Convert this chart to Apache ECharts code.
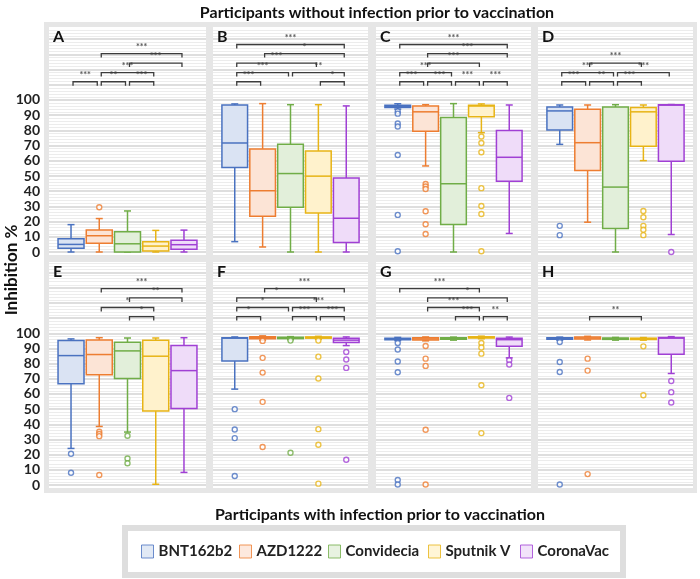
<!DOCTYPE html>
<html><head><meta charset="utf-8">
<script src="https://cdn.jsdelivr.net/npm/echarts@6/dist/echarts.min.js"></script>
<style>html,body{margin:0;padding:0;background:#fff}#c{width:700px;height:579px}</style>
</head><body><div id="c"></div>
<script>
// ---------------- DATA ----------------
const vaccines = ['BNT162b2', 'AZD1222', 'Convidecia', 'Sputnik V', 'CoronaVac'];
const panelLetters = ['A', 'B', 'C', 'D', 'E', 'F', 'G', 'H'];
const yTickLabels = [0, 10, 20, 30, 40, 50, 60, 70, 80, 90, 100];
const topTitle = 'Participants without infection prior to vaccination';
const bottomTitle = 'Participants with infection prior to vaccination';
const yTitle = 'Inhibition %';

// box stats per panel: [min, Q1, median, Q3, max] for each vaccine
const boxA = [[0, 2.4, 5, 8.7, 18], [0, 5.7, 10.7, 14.4, 22], [0, 0, 5.4, 13.3, 27], [0, 0.7, 3.9, 6.8, 14.2], [0, 1.8, 4.8, 7.8, 14.4]];
const boxB = [[6.8, 55.6, 71.7, 96.7, 97.4], [3.3, 23.5, 40.3, 67.8, 97.6], [0, 29.4, 51.6, 70.8, 96.9], [0, 25.7, 49.9, 66.4, 96.9], [0, 6.3, 22.2, 48.6, 96.1]];
const boxC = [[94, 95, 95.8, 96.5, 97.5], [56.6, 79.5, 92.2, 96.1, 96.9], [0, 18.1, 44.9, 88.5, 97.6], [78.5, 88.9, 96, 96.5, 97.4], [12.2, 46.6, 62.3, 80, 96.7]];
const boxD = [[70.8, 80.2, 92.8, 95.4, 96.7], [19.6, 53.6, 71.9, 93.9, 96.7], [0, 15.5, 42.7, 95.4, 96.9], [60.1, 69.5, 92.2, 95, 96.7], [11.5, 59.7, 96.6, 96.9, 97]];
const boxE = [[24.1, 66.7, 85.3, 95.2, 96.3], [38.6, 72.6, 86, 95.6, 97.1], [34.9, 70.2, 88.4, 94.1, 96.9], [0.5, 48.7, 84.9, 95.4, 96.9], [8.3, 50.4, 75.4, 91.9, 97.1]];
const boxF = [[63.2, 81.8, 96.8, 97.1, 97.6], [95.5, 96.4, 97.1, 97.7, 98.3], [95.8, 96.5, 97, 97.4, 97.8], [96, 96.8, 97.2, 97.6, 98], [91.9, 93.9, 95.5, 96.7, 97.6]];
const boxG = [[95.2, 95.8, 96.3, 96.8, 97.3], [95, 95.6, 96.3, 97, 97.6], [95.5, 96, 96.5, 97, 97.5], [96.4, 96.9, 97.3, 97.7, 98.1], [83.8, 91.4, 95.8, 96.7, 97.5]];
const boxH = [[95.5, 96.1, 96.7, 97.1, 97.5], [95.6, 96.2, 96.9, 97.5, 98], [95.5, 96, 96.5, 96.9, 97.3], [95.5, 95.9, 96.3, 96.8, 97.2], [73.5, 86.2, 96.8, 97.2, 97.8]];

// outliers per panel: [vaccineIndex, value]
const outA = [[1, 29.4]];
const outB = [];
const outC = [[0, 92.5], [0, 91], [0, 84.5], [0, 82.6], [0, 63.8], [0, 24.4], [0, 0.5],
  [1, 44.7], [1, 43.1], [1, 41.4], [1, 26.8], [1, 18.3], [1, 11.8],
  [3, 76], [3, 71.7], [3, 65.6], [3, 42], [3, 30.3], [3, 25], [3, 0.5]];
const outD = [[0, 17.2], [0, 11.1], [3, 27], [3, 22.9], [3, 17.2], [3, 14.6], [3, 11.1], [4, 0]];
const outE = [[0, 20.6], [0, 8.1], [1, 35.1], [1, 33.6], [1, 32.2], [1, 6.6], [2, 32.5], [2, 17.5], [2, 14.3]];
const outF = [[0, 50], [0, 36.6], [0, 30.9], [0, 5.9], [1, 95], [1, 83.8], [1, 74.1], [1, 54.8], [1, 25],
  [2, 95.2], [2, 21.3], [3, 95.2], [3, 84.6], [3, 70.2], [3, 36.8], [3, 26.5], [3, 0.9],
  [4, 87.7], [4, 82.7], [4, 77.2], [4, 16.6]];
const outG = [[0, 93.6], [0, 89.3], [0, 81.4], [0, 74.3], [0, 3.3], [0, 0.3], [1, 91.6], [1, 83.3], [1, 78.5], [1, 36.4], [1, 0.3],
  [3, 93.6], [3, 90.6], [3, 86.6], [3, 65.8], [3, 34.2], [4, 82.2], [4, 79.4], [4, 57.4]];
const outH = [[0, 94.3], [0, 81.1], [0, 74.5], [0, 0.3], [1, 83.3], [1, 75.4], [1, 7.2], [3, 91.4], [3, 59.2], [4, 68.6], [4, 61.2], [4, 54.4]];

// significance brackets per panel: [fromIndex, toIndex, level, label]
const brA = [[0, 1, 112, '***'], [1, 2, 112, '**'], [2, 3, 112, '***'], [1, 3, 118, '***'], [2, 4, 124.3, '***'], [1, 4, 130.5, '***']];
const brB = [[0, 1, 112, '***'], [3, 4, 112, '*'], [0, 2, 118, '***'], [2, 4, 118, '**'], [0, 3, 124.3, '***'], [1, 4, 130.5, '*'], [0, 4, 136.5, '***']];
const brC = [[0, 1, 112, '***'], [1, 2, 112, '***'], [2, 3, 112, '***'], [3, 4, 112, '***'], [0, 2, 118, '***'], [1, 3, 124.3, '***'], [1, 4, 130.5, '***'], [0, 4, 136.5, '***']];
const brD = [[0, 1, 112, '***'], [1, 2, 112, '**'], [2, 3, 112, '***'], [0, 2, 118, '***'], [2, 4, 118, '***'], [1, 3, 124.3, '***']];
const brE = [[2, 3, 111, '*'], [1, 3, 117, '*'], [2, 4, 123.3, '**'], [1, 4, 129.5, '***']];
const brF = [[0, 1, 111, '*'], [2, 3, 111, '***'], [3, 4, 111, '***'], [0, 2, 117, '*'], [2, 4, 117, '***'], [0, 3, 123.3, '*'], [1, 4, 129.5, '***']];
const brG = [[2, 3, 111, '***'], [3, 4, 111, '**'], [1, 3, 117, '***'], [1, 4, 123.3, '*'], [0, 3, 129.5, '***']];
const brH = [[1, 3, 111, '**']];

// ---------------- STYLE / LAYOUT ----------------
const strokeColors = ['#4a72c0', '#ed7d31', '#70ad47', '#e7b416', '#a040d4'];
const fillColors = ['#dae3f3', '#fce4d6', '#e2efda', '#fff2cc', '#efdcf9'];
const FONT = 'Lato, "Open Sans", sans-serif';
const colLeft = [49, 213, 376, 538];
const colWidth = [157, 155, 155, 155];
const rowTop = [27, 262];
const rowZero = [252, 485];
const rowBottom = [255, 488];
const rowMax = [148, 147];

const boxes = [boxA, boxB, boxC, boxD, boxE, boxF, boxG, boxH];
const outs = [outA, outB, outC, outD, outE, outF, outG, outH];
const brs = [brA, brB, brC, brD, brE, brF, brG, brH];

const grids = [], xAxes = [], yAxes = [], series = [], graphics = [];

graphics.push({type: 'rect', z: -20, shape: {x: 44, y: 22, width: 653, height: 471}, style: {fill: '#e6e6e6'}});

for (let p = 0; p < 8; p++) {
  const r = Math.floor(p / 4), c = p % 4;
  grids.push({left: colLeft[c], width: colWidth[c], top: rowTop[r], height: rowZero[r] - rowTop[r], containLabel: false});
  graphics.push({type: 'rect', z: -10, shape: {x: colLeft[c], y: rowTop[r], width: colWidth[c], height: rowBottom[r] - rowTop[r]}, style: {fill: '#ffffff'}});
  graphics.push({type: 'text', z: 10, x: colLeft[c] + 4, y: rowTop[r] + 2, style: {text: panelLetters[p], font: 'bold 16px ' + FONT, fill: '#111'}});
  xAxes.push({type: 'value', gridIndex: p, min: -0.78, max: 4.78, show: false});
  yAxes.push({
    type: 'value', gridIndex: p, min: 0, max: rowMax[r], interval: 10,
    axisLine: {show: false}, axisTick: {show: false},
    splitLine: {show: true, showMaxLine: false, lineStyle: {color: '#d3d3d3', width: 1.5}},
    minorTick: {show: false, splitNumber: 5},
    minorSplitLine: {show: true, lineStyle: {color: '#ececec', width: 1}},
    axisLabel: {
      show: c === 0, margin: 9, fontFamily: FONT, fontWeight: 'bold', fontSize: 14, color: '#222',
      formatter: v => yTickLabels.indexOf(v) >= 0 ? String(v) : ''
    }
  });

  const stats = boxes[p];
  series.push({
    type: 'custom', xAxisIndex: p, yAxisIndex: p, z: 2,
    data: stats.map((s, i) => [i, s[0], s[1], s[2], s[3], s[4]]),
    renderItem: function (params, api) {
      const i = api.value(0);
      const pMin = api.coord([i, api.value(1)]);
      const pQ1 = api.coord([i, api.value(2)]);
      const pMed = api.coord([i, api.value(3)]);
      const pQ3 = api.coord([i, api.value(4)]);
      const pMax = api.coord([i, api.value(5)]);
      const bw = api.size([1, 0])[0] * 0.92;
      const cx = pMed[0];
      const cap = 7;
      const ls = {stroke: strokeColors[i], lineWidth: 1.5};
      return {type: 'group', children: [
        {type: 'line', shape: {x1: cx, y1: pMax[1], x2: cx, y2: pQ3[1]}, style: ls},
        {type: 'line', shape: {x1: cx, y1: pQ1[1], x2: cx, y2: pMin[1]}, style: ls},
        {type: 'line', shape: {x1: cx - cap / 2, y1: pMax[1], x2: cx + cap / 2, y2: pMax[1]}, style: ls},
        {type: 'line', shape: {x1: cx - cap / 2, y1: pMin[1], x2: cx + cap / 2, y2: pMin[1]}, style: ls},
        {type: 'rect', shape: {x: cx - bw / 2, y: pQ3[1], width: bw, height: Math.max(pQ1[1] - pQ3[1], 1)}, style: {fill: fillColors[i], stroke: strokeColors[i], lineWidth: 1.5}},
        {type: 'line', shape: {x1: cx - bw / 2, y1: pMed[1], x2: cx + bw / 2, y2: pMed[1]}, style: ls}
      ]};
    }
  });

  series.push({
    type: 'scatter', xAxisIndex: p, yAxisIndex: p, z: 4, symbol: 'circle', symbolSize: 5,
    data: outs[p].map(o => ({value: [o[0], o[1]], itemStyle: {color: '#fff', borderColor: strokeColors[o[0]], borderWidth: 1.4}})),
    silent: true
  });

  const br = brs[p];
  series.push({
    type: 'custom', xAxisIndex: p, yAxisIndex: p, z: 3,
    data: br.map(b => [b[0], b[1], b[2]]),
    renderItem: function (params, api) {
      const a = api.coord([api.value(0), api.value(2)]);
      const b = api.coord([api.value(1), api.value(2)]);
      const x1 = a[0] + 2, x2 = b[0] - 2, y = a[1];
      return {type: 'group', children: [
        {type: 'polyline', shape: {points: [[x1, y + 4], [x1, y], [x2, y], [x2, y + 4]]}, style: {stroke: '#3c3c3c', lineWidth: 1.3, fill: null}},
        {type: 'text', x: (x1 + x2) / 2, y: y - 2, style: {text: br[params.dataIndex][3], font: 'bold 9px ' + FONT, fill: '#555', align: 'center', verticalAlign: 'bottom'}}
      ]};
    }
  });
}

// legend proxy series
const legendLeft = [141, 239, 328, 428, 520];
vaccines.forEach((v, k) => {
  series.push({type: 'scatter', name: v, xAxisIndex: 0, yAxisIndex: 0, data: [], itemStyle: {color: fillColors[k], borderColor: strokeColors[k], borderWidth: 1}});
});

graphics.push({type: 'rect', z: -20, shape: {x: 122, y: 525, width: 504, height: 53}, style: {fill: '#dedede'}});
graphics.push({type: 'rect', z: -19, shape: {x: 128, y: 531, width: 492, height: 41}, style: {fill: '#ffffff'}});
graphics.push({type: 'text', z: 10, x: 12, y: 270, rotation: Math.PI / 2, style: {text: yTitle, font: 'bold 17px ' + FONT, fill: '#111', align: 'center', verticalAlign: 'middle'}});

const option = {
  animation: false,
  backgroundColor: '#fff',
  title: [
    {text: topTitle, left: 372, top: 0, textAlign: 'center', textStyle: {fontFamily: FONT, fontWeight: 'bold', fontSize: 16, color: '#111'}},
    {text: bottomTitle, left: 375, top: 502, textAlign: 'center', textStyle: {fontFamily: FONT, fontWeight: 'bold', fontSize: 16, color: '#111'}}
  ],
  legend: vaccines.map((v, k) => ({
    data: [{name: v, icon: 'rect', itemStyle: {color: fillColors[k], borderColor: strokeColors[k], borderWidth: 1}}],
    left: legendLeft[k], top: 544, padding: 0, itemWidth: 12, itemHeight: 13, itemGap: 0, selectedMode: false,
    textStyle: {fontFamily: FONT, fontWeight: 'bold', fontSize: 15, color: '#222'}
  })),
  grid: grids, xAxis: xAxes, yAxis: yAxes, series: series, graphic: graphics
};
const chart = echarts.init(document.getElementById('c'), null, {renderer: 'canvas'});
chart.setOption(option);
</script></body></html>
